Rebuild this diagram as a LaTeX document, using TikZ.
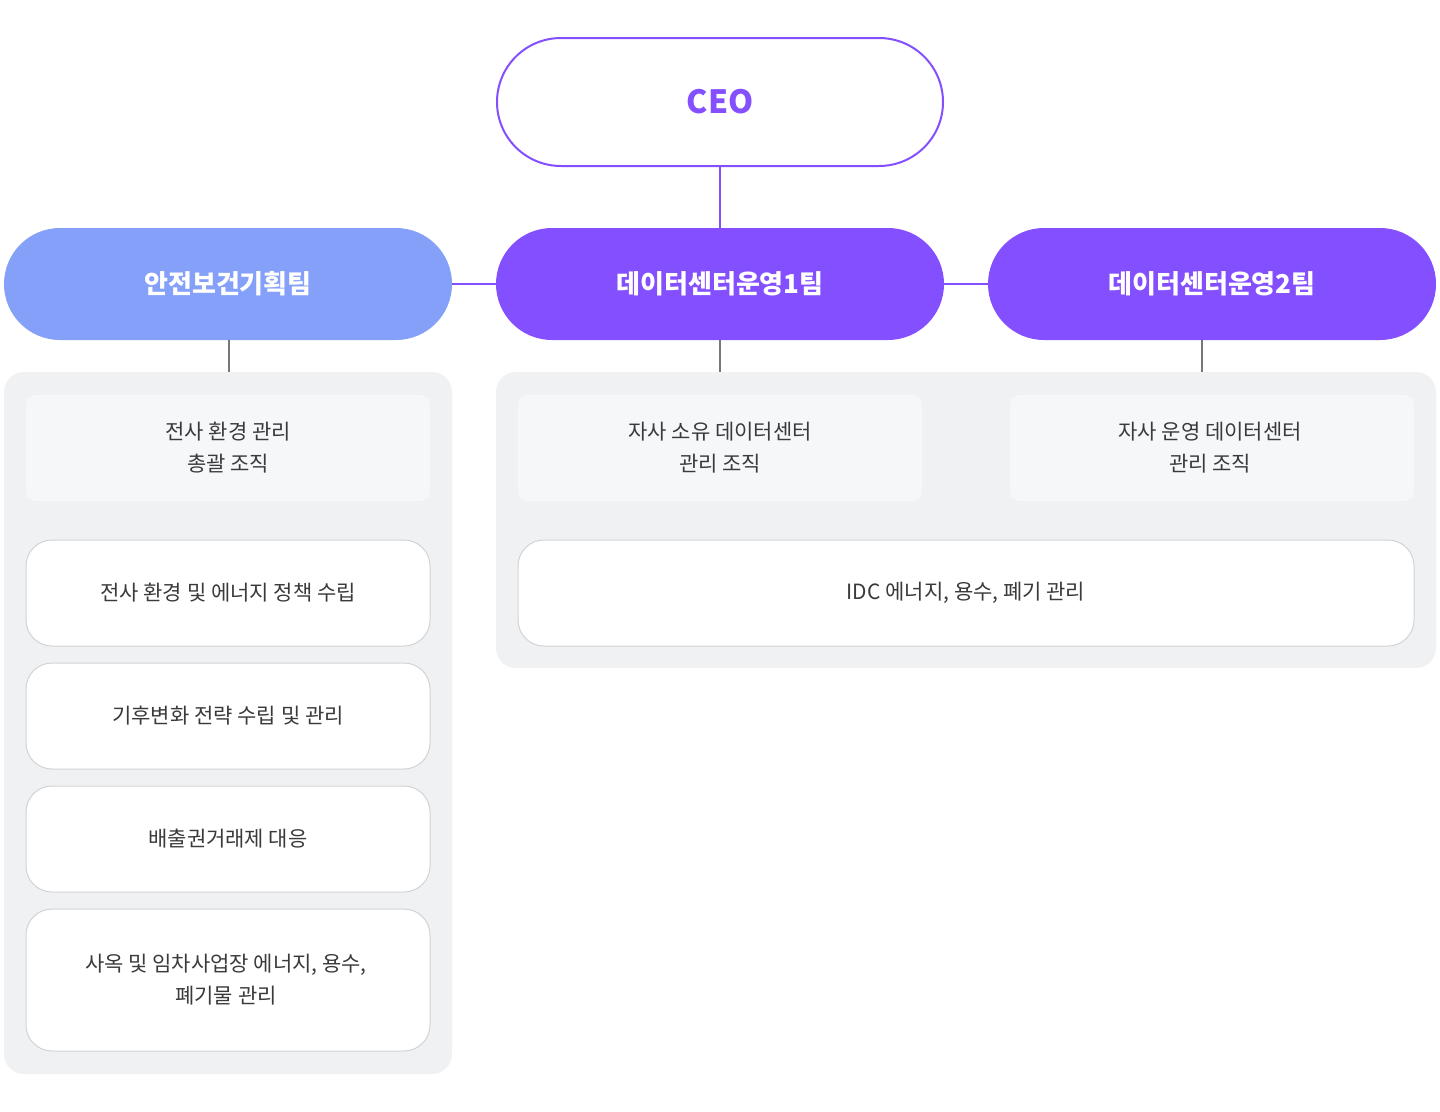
\documentclass[tikz,border=0pt]{standalone}
\usepackage{fontspec}
\setmainfont{Noto Sans CJK KR}
\begin{document}
\begin{tikzpicture}[x=1pt,y=-1pt,
  purp/.style={draw=none,fill=pp},
  txt/.style={font=\fontsize{21}{32}\selectfont,text=tx,align=center},
  team/.style={rounded corners=56pt,minimum width=448pt,minimum height=112pt,inner sep=0pt,text=white,font=\fontsize{26}{30}\selectfont\bfseries},
  grayline/.style={draw=gl,line width=1.2pt},
  purline/.style={draw=pp,line width=2pt},
  panel/.style={fill=pn,rounded corners=20pt},
  sub/.style={fill=sb,rounded corners=10pt},
  wbox/.style={fill=white,draw=bd,line width=1pt,rounded corners=26pt}]
\definecolor{pp}{HTML}{8450FF}
\definecolor{lb}{HTML}{85A0F9}
\definecolor{tx}{HTML}{3A3A3A}
\definecolor{gl}{HTML}{777777}
\definecolor{pn}{HTML}{F0F1F3}
\definecolor{sb}{HTML}{F6F7F9}
\definecolor{bd}{HTML}{D2D3D6}
\useasboundingbox[fill=white] (0,0) rectangle (1440,1111);
% panels
\path[panel] (4,372) rectangle (452,1074);
\path[panel] (496,372) rectangle (1436,668);
% connectors
\node[draw=pp,line width=2pt,fill=white,rounded corners=64pt,minimum width=446pt,minimum height=128pt,inner sep=0pt,text=pp,font=\fontsize{32}{36}\selectfont\bfseries] (ceo) at (720,102) {CEO};
\node[team,fill=lb] (t0) at (228,284) {안전보건기획팀};
\node[team,fill=pp] (t1) at (720,284) {데이터센터운영1팀};
\node[team,fill=pp] (t2) at (1212,284) {데이터센터운영2팀};
\draw[purline] (ceo.south) -- (t1.north);
\draw[purline] (t0.east) -- (t1.west);
\draw[purline] (t1.east) -- (t2.west);
\coordinate (p0) at (229,372);
\coordinate (p1) at (720,372);
\coordinate (p2) at (1202,372);
\draw[grayline] (229,340) -- (p0);
\draw[grayline] (t1.south) -- (p1);
\draw[grayline] (1202,340) -- (p2);
% left
\path[sub] (26,395) rectangle (430,501);
\node[txt] (a0) at (228,448) {전사 환경 관리\\총괄 조직};
\path[wbox] (26,540) rectangle (430,646);
\node[txt] (a1) at (228,593) {전사 환경 및 에너지 정책 수립};
\path[wbox] (26,663) rectangle (430,769);
\node[txt] (a2) at (228,716) {기후변화 전략 수립 및 관리};
\path[wbox] (26,786) rectangle (430,892);
\node[txt] (a3) at (228,839) {배출권거래제 대응};
\path[wbox] (26,909) rectangle (430,1051);
\node[txt] (a4) at (226,980) {사옥 및 임차사업장 에너지, 용수,\\폐기물 관리};
% right
\path[sub] (518,395) rectangle (922,501);
\node[txt] (b0) at (720,448) {자사 소유 데이터센터\\관리 조직};
\path[sub] (1010,395) rectangle (1414,501);
\node[txt] (b1) at (1210,448) {자사 운영 데이터센터\\관리 조직};
\path[wbox] (518,540) rectangle (1414,646);
\node[txt] (b2) at (966,593) {IDC 에너지, 용수, 폐기 관리};
\end{tikzpicture}
\end{document}
